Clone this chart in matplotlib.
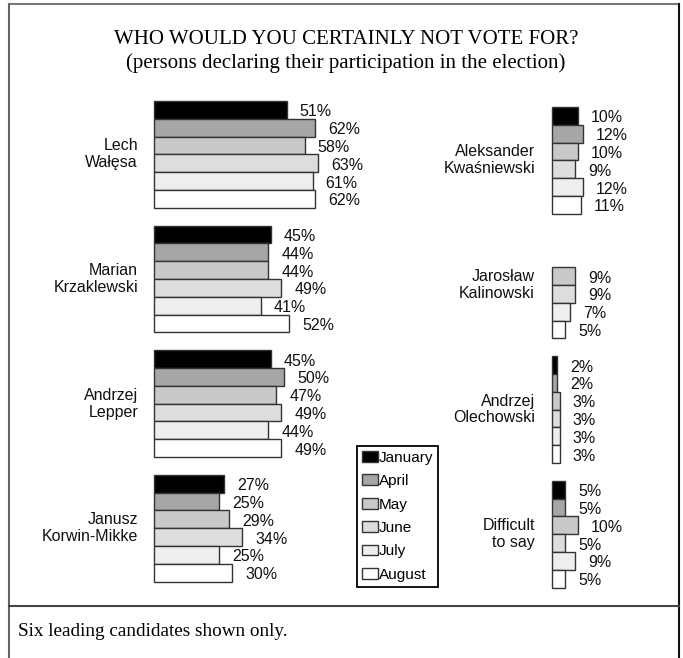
import numpy as np
import matplotlib
matplotlib.use("Agg")
import matplotlib.pyplot as plt

months = ["January", "April", "May", "June", "July", "August"]
colors = ["#000000", "#a6a6a6", "#c9c9c9", "#dddddd", "#eeeeee", "#ffffff"]

left_names = ["Lech\nWałęsa", "Marian\nKrzaklewski", "Andrzej\nLepper", "Janusz\nKorwin-Mikke"]
left_vals = [
    [51, 62, 58, 63, 61, 62],
    [45, 44, 44, 49, 41, 52],
    [45, 50, 47, 49, 44, 49],
    [27, 25, 29, 34, 25, 30],
]

right_names = ["Aleksander\nKwaśniewski", "Jarosław\nKalinowski", "Andrzej\nOlechowski", "Difficult\nto say"]
right_vals = [
    [10, 12, 10, 9, 12, 11],
    [None, None, 9, 9, 7, 5],
    [2, 2, 3, 3, 3, 3],
    [5, 5, 10, 5, 9, 5],
]

W, H = 683, 658
PX_PER_PCT = 2.6
ROW_H = 17.8
N_ROWS = 27

plt.rcParams['font.family'] = ['Liberation Sans', 'DejaVu Sans']
fig = plt.figure(figsize=(W / 100, H / 100), dpi=100)


def make_ax(left_px, top_px, width_px):
    h = N_ROWS * ROW_H
    ax = fig.add_axes([left_px / W, 1 - (top_px + h) / H, width_px / W, h / H])
    ax.set_xlim(0, width_px / PX_PER_PCT)
    ax.set_ylim(N_ROWS, 0)
    ax.axis("off")
    return ax


def draw_column(ax, names, vals, name_x_px):
    handles = []
    for g, (name, row) in enumerate(zip(names, vals)):
        for i, v in enumerate(row):
            if v is None:
                continue
            y = g * 7 + i + 0.5
            b = ax.barh(y, v, height=1.0, color=colors[i], edgecolor="#333333",
                        linewidth=1.0, label=months[i])
            for p in b.patches:
                p.set_clip_on(False)
            if g == 0:
                handles.append(b)
            ax.annotate("%d%%" % v, xy=(v, y), xytext=(13, -2), textcoords="offset pixels",
                        ha="left", va="center", fontsize=11.5, color="#111111")
        # candidate name, right aligned left of the bars
        ax.annotate(name, xy=(0, g * 7 + 3), xytext=(name_x_px, 0), textcoords="offset pixels",
                    ha="right", va="center", fontsize=11.5, linespacing=1.15, color="#111111")
    return handles


ax_l = make_ax(154, 101, 200)
handles = draw_column(ax_l, left_names, left_vals, -16)

ax_r = make_ax(552, 107, 120)
draw_column(ax_r, right_names, right_vals, -17)

# title
fig.text(346 / W, 1 - 40 / H, "WHO WOULD YOU CERTAINLY NOT VOTE FOR?", ha="center", va="center",
         fontsize=15, family="Liberation Serif")
fig.text(346 / W, 1 - 63 / H, "(persons declaring their participation in the election)", ha="center",
         va="center", fontsize=15, family="Liberation Serif")

# legend
leg = fig.legend(handles=handles, labels=months, loc="upper left",
                 bbox_to_anchor=(357 / W, 1 - 446 / H), fontsize=11, frameon=True,
                 fancybox=False, edgecolor="#000000", framealpha=1, borderpad=0.3,
                 handlelength=1.05, handleheight=0.7, handletextpad=0.1,
                 labelspacing=0.62, borderaxespad=0)
leg.get_frame().set_linewidth(1.3)

# frame
frame = fig.add_axes([0, 0, 1, 1], zorder=-1)
frame.set_xlim(0, W)
frame.set_ylim(H, 0)
frame.axis("off")
frame.plot([9, 679], [4, 4], color="#777777", lw=1.5)
frame.plot([9, 9], [4, H], color="#666666", lw=1.5)
frame.plot([679, 679], [4, H], color="#111111", lw=1.5)
frame.plot([9, 679], [606, 606], color="#444444", lw=1.5)

fig.text(18 / W, 1 - 631 / H, "Six leading candidates shown only.", ha="left", va="center",
         fontsize=13.8, family="Liberation Serif")

fig.savefig("out.png", dpi=100)
